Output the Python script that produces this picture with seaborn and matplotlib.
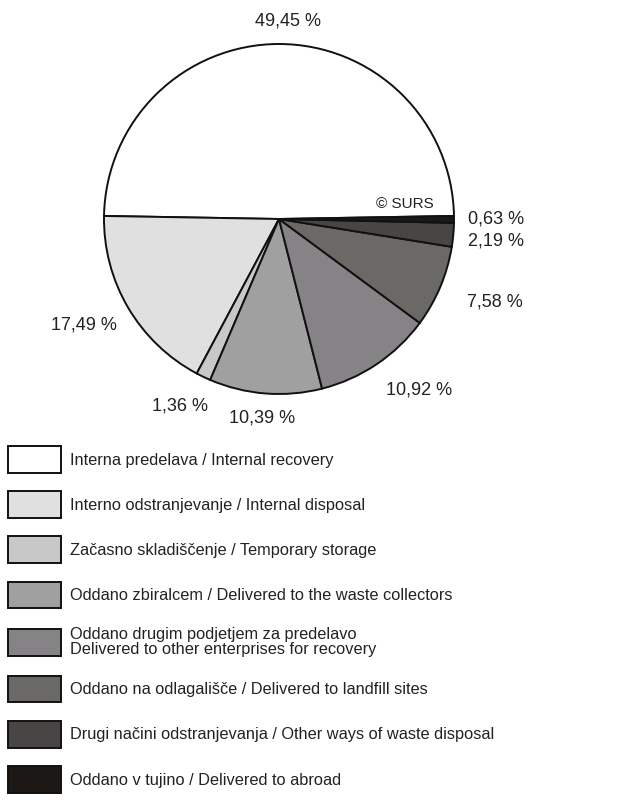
import numpy as np
import matplotlib
matplotlib.use("Agg")
import matplotlib.pyplot as plt
import seaborn as sns

# shares of waste by treatment (%)
labels = [
    "Interna predelava / Internal recovery",
    "Interno odstranjevanje / Internal disposal",
    "Začasno skladiščenje / Temporary storage",
    "Oddano zbiralcem / Delivered to the waste collectors",
    "Oddano drugim podjetjem za predelavo\nDelivered to other enterprises for recovery",
    "Oddano na odlagališče / Delivered to landfill sites",
    "Drugi načini odstranjevanja / Other ways of waste disposal",
    "Oddano v tujino / Delivered to abroad",
]
shares = [49.45, 17.49, 1.36, 10.39, 10.92, 7.58, 2.19, 0.63]
share_text = ["49,45 %", "17,49 %", "1,36 %", "10,39 %", "10,92 %", "7,58 %", "2,19 %", "0,63 %"]
colors = ["#ffffff", "#e0e0e0", "#c8c8c8", "#a0a0a0", "#858385", "#6a6966", "#4a4545", "#1c1815"]

# label placement (radial distance, angle nudge in degrees)
lab_dist = [1.13, 1.27, 1.21, 1.14, 1.26, 1.32, 1.245, 1.24]
lab_nudge = [-2.6, -1.9, -2.2, -0.5, 5.4, 1.8, -0.6, 0.1]

sns.set_style("white")
plt.rcParams['font.family'] = ['Liberation Sans', 'DejaVu Sans']

fig = plt.figure(figsize=(6.26, 8.02), dpi=100)
ax = fig.add_axes([104 / 626, 408 / 802, 350 / 626, 350 / 802])

wedges, _ = ax.pie(shares, colors=colors, startangle=1, counterclock=True,
                   wedgeprops=dict(edgecolor="#111111", linewidth=1.4))
ax.set_xlim(-1, 1)
ax.set_ylim(-1, 1)
ax.set_aspect("equal")
ax.axis("off")

for w, txt, d, n in zip(wedges, share_text, lab_dist, lab_nudge):
    ang = np.deg2rad((w.theta1 + w.theta2) / 2 + n)
    ax.text(d * np.cos(ang), d * np.sin(ang), txt, ha="center", va="center",
            fontsize=13, color="#222222", clip_on=False)

ax.text(0.72, 0.086, "© SURS", ha="center", va="center", fontsize=11, color="#222222")

leg = fig.legend(wedges, labels, loc="upper left", bbox_to_anchor=(8 / 626, 1 - 446 / 802),
                 frameon=False, fontsize=11.8, handlelength=3.25, handleheight=2.14,
                 handletextpad=0.55, labelspacing=1.12, borderpad=0, borderaxespad=0,
                 labelcolor="#222222")
for t in leg.get_texts():
    t.set_linespacing(1.05)

fig.savefig("out.png", dpi=100)
